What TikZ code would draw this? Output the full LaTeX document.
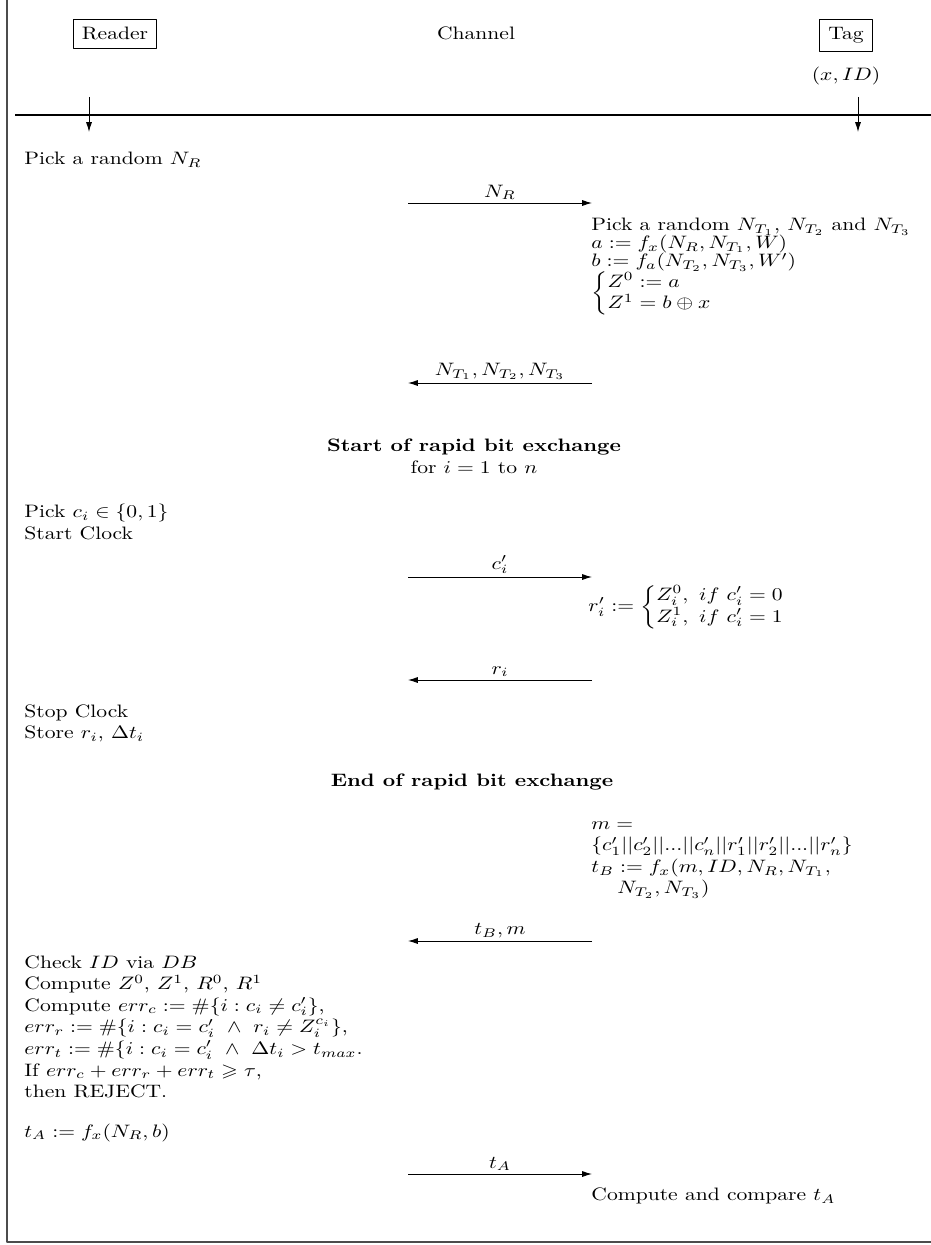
\documentclass[tikz,border=0pt]{standalone}
\usepackage{amsmath, amssymb}
\usetikzlibrary{arrows.meta,positioning}
\newcommand \mydrawmsgright[3]
{
\coordinate (#1s) at (408,#2);
\coordinate (#1e) at (592,#2);
\draw[msg] (#1s) -- node[msglbl] (#1l) {#3} (#1e);
}
\newcommand \mydrawmsgleft[3]
{
\coordinate (#1s) at (592,#2);
\coordinate (#1e) at (408,#2);
\draw[msg] (#1s) -- node[msglbl] (#1l) {#3} (#1e);
}
\newcommand \mycases[1]{\left\{\begin{array}{@{}l@{}}#1\end{array}\right.}
\begin{document}
\begin{tikzpicture}[x=0.5556pt, y=-0.5556pt, line join=round,
  >={Latex[length=5.5pt,width=3.4pt]},
  lbl/.style={xscale=1.2, inner sep=0pt, align=left},
  actor/.style={draw, xscale=1.2, inner xsep=4pt, inner ysep=4.5pt},
  msg/.style={->, line width=0.5pt},
  msglbl/.style={above, xscale=1.2, inner sep=1.5pt},
  frame/.style={line width=0.8pt, black!70}]
\useasboundingbox (0,0) rectangle (931,1245);
% frame
\coordinate (ftl) at (7,0);
\coordinate (fbl) at (7,1242);
\coordinate (fbr) at (931,1242);
\draw[frame] (ftl) -- (fbl) -- (fbr);
% parties
\node[actor, anchor=base] (reader)  at (115,40) {Reader};
\node[lbl,   anchor=base] (channel) at (476,40) {Channel};
\node[actor, anchor=base] (tag)     at (846,40) {Tag};
\node[lbl,   anchor=base] (secret)  at (846,81) {$(x,ID)$};
\coordinate (hl) at (15,115);
\coordinate (hr) at (931,115);
\draw[line width=0.6pt] (hl) -- (hr);
\coordinate (rtop) at (89,97);
\coordinate (rbot) at (89,132);
\coordinate (ttop) at (858,97);
\coordinate (tbot) at (858,132);
\draw[msg] (rtop) -- (rbot);
\draw[msg] (ttop) -- (tbot);
% initial phase
\node[lbl, anchor=north west] (pickr) at (24,152) {Pick a random $N_R$};
\mydrawmsgright{nr}{203}{$N_R$}
\node[lbl, anchor=north west] (tagcalc) at (591,218)
  {Pick a random $N_{T_1}$, $N_{T_2}$ and $N_{T_3}$\\[-2.3pt]
   $a := f_x(N_R, N_{T_1}, W)$\\[-1.8pt]
   $b := f_a(N_{T_2}, N_{T_3}, W')$\\[-0.5pt]
   $\mycases{Z^0 := a\\ Z^1 = b\oplus x}$};
\mydrawmsgleft{nt}{383}{$N_{T_1}, N_{T_2}, N_{T_3}$}
% rapid bit exchange
\node[lbl, anchor=north, align=center] (start) at (474,439)
  {\textbf{Start of rapid bit exchange}\\ for $i=1$ to $n$};
\node[lbl, anchor=north west] (pickc) at (24,504)
  {Pick $c_i \in \{0,1\}$\\ Start Clock};
\mydrawmsgright{ch}{577}{$c'_i$}
\node[lbl, anchor=west] (resp) at (588,607)
  {$r'_i := \mycases{Z^0_i,\ if\ c'_i = 0\\ Z^1_i,\ if\ c'_i = 1}$};
\mydrawmsgleft{rs}{680}{$r_i$}
\node[lbl, anchor=north west] (stop) at (24,704)
  {Stop Clock\\ Store $r_i$, $\Delta t_i$};
\node[lbl, anchor=north] (finish) at (472,774) {\textbf{End of rapid bit exchange}};
% final phase
\node[lbl, anchor=north west] (tagmac) at (591,821)
  {$m =$\\
   $\{c'_1||c'_2||...||c'_n||r'_1||r'_2||...||r'_n\}$\\
   $t_B := f_x(m, ID, N_R, N_{T_1},$\\
   \hspace{12pt}$N_{T_2}, N_{T_3})$};
\mydrawmsgleft{tb}{941}{$t_B, m$}
\node[lbl, anchor=north west] (check) at (24,955)
  {Check $ID$ via $DB$\\
   Compute $Z^0$, $Z^1$, $R^0$, $R^1$\\
   Compute $err_c := \#\{i : c_i \neq c'_i\}$,\\
   $err_r := \#\{i : c_i = c'_i \ \wedge\ r_i \neq Z_i^{c_i}\}$,\\
   $err_t := \#\{i : c_i = c'_i \ \wedge\ \Delta t_i > t_{max}$.\\
   If $err_c + err_r + err_t \geqslant \tau$,\\
   then REJECT.\\[10pt]
   $t_A := f_x(N_R, b)$};
\mydrawmsgright{ta}{1174}{$t_A$}
\node[lbl, anchor=west] (verify) at (591,1196) {Compute and compare $t_A$};
\end{tikzpicture}
\end{document}
